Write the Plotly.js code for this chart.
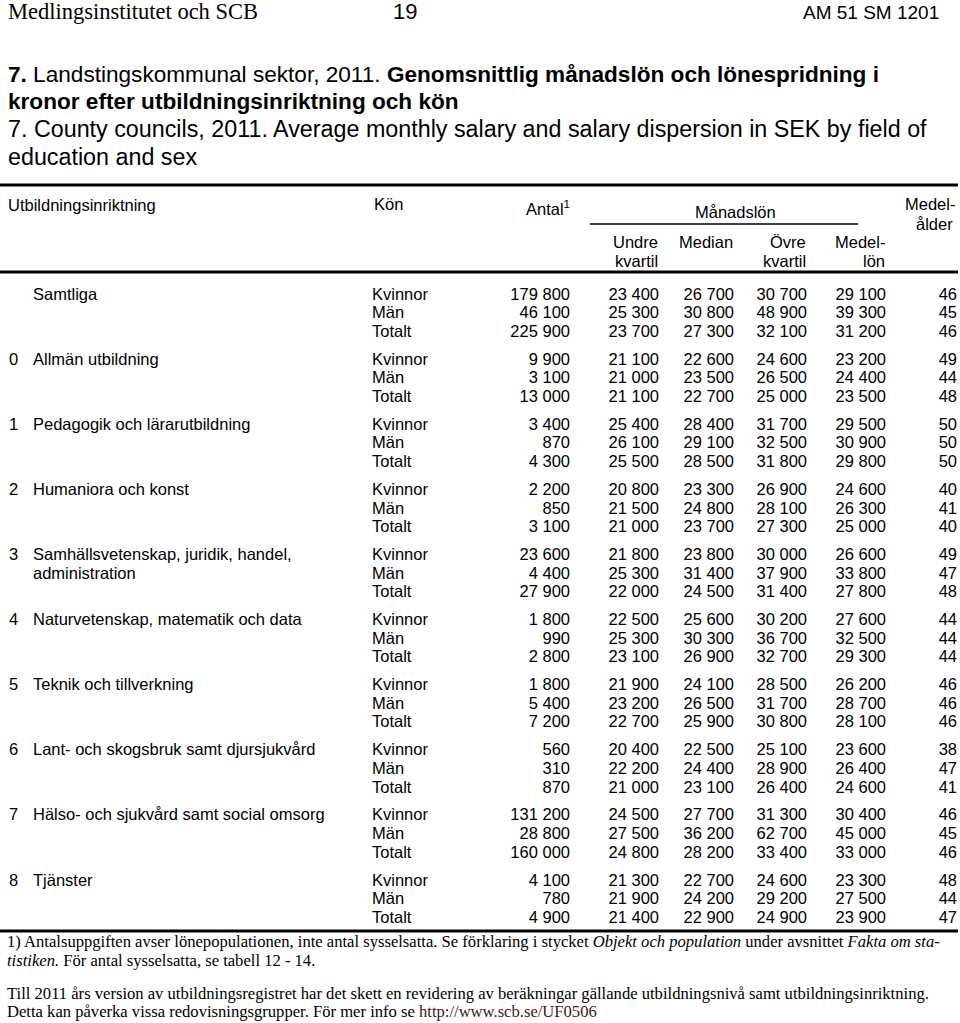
<!DOCTYPE html>
<html>
<head>
<meta charset="utf-8">
<script src="https://cdn.plot.ly/plotly-3.0.1.min.js"></script>
<style>
body { margin: 0; background: #fff; }
#tabell { width: 960px; height: 1023px; }
</style>
</head>
<body>
<div id="tabell"></div>
<script>
// Tabell 7 - data avläst ur tabellen
const nummer = ['', '0', '1', '2', '3', '4', '5', '6', '7', '8'];
const inriktning = [
    'Samtliga',
    'Allmän utbildning',
    'Pedagogik och lärarutbildning',
    'Humaniora och konst',
    'Samhällsvetenskap, juridik, handel,\nadministration',
    'Naturvetenskap, matematik och data',
    'Teknik och tillverkning',
    'Lant- och skogsbruk samt djursjukvård',
    'Hälso- och sjukvård samt social omsorg',
    'Tjänster'
];
const kon = ['Kvinnor', 'Män', 'Totalt'];

const antal = [
    [179800, 46100, 225900], [9900, 3100, 13000], [3400, 870, 4300], [2200, 850, 3100],
    [23600, 4400, 27900], [1800, 990, 2800], [1800, 5400, 7200], [560, 310, 870],
    [131200, 28800, 160000], [4100, 780, 4900]
];
const undreKvartil = [
    [23400, 25300, 23700], [21100, 21000, 21100], [25400, 26100, 25500], [20800, 21500, 21000],
    [21800, 25300, 22000], [22500, 25300, 23100], [21900, 23200, 22700], [20400, 22200, 21000],
    [24500, 27500, 24800], [21300, 21900, 21400]
];
const median = [
    [26700, 30800, 27300], [22600, 23500, 22700], [28400, 29100, 28500], [23300, 24800, 23700],
    [23800, 31400, 24500], [25600, 30300, 26900], [24100, 26500, 25900], [22500, 24400, 23100],
    [27700, 36200, 28200], [22700, 24200, 22900]
];
const ovreKvartil = [
    [30700, 48900, 32100], [24600, 26500, 25000], [31700, 32500, 31800], [26900, 28100, 27300],
    [30000, 37900, 31400], [30200, 36700, 32700], [28500, 31700, 30800], [25100, 28900, 26400],
    [31300, 62700, 33400], [24600, 29200, 24900]
];
const medellon = [
    [29100, 39300, 31200], [23200, 24400, 23500], [29500, 30900, 29800], [24600, 26300, 25000],
    [26600, 33800, 27800], [27600, 32500, 29300], [26200, 28700, 28100], [23600, 26400, 24600],
    [30400, 45000, 33000], [23300, 27500, 23900]
];
const medelalder = [
    [46, 45, 46], [49, 44, 48], [50, 50, 50], [40, 41, 40], [49, 47, 48],
    [44, 44, 44], [46, 46, 46], [38, 47, 41], [46, 45, 46], [48, 44, 47]
];

function graficar() {
    const W = 960, H = 1023;
    const rad0 = 295.5, radH = 18.6;   // pixelläge för första raden och radavstånd
    const gruppSteg = 3.5;             // rader per grupp inkl. luft
    const typsnitt = 'Liberation Sans, Arial, sans-serif';
    const serif = 'Liberation Serif, Times New Roman, serif';
    const fmt = v => String(v).replace(/\B(?=(\d{3})+(?!\d))/g, ' ');
    const py = px => 1 - px / H;

    // kolumnernas högerkanter (x i pixlar)
    const kolumner = [
        {v: antal, x: 570},
        {v: undreKvartil, x: 659},
        {v: median, x: 734},
        {v: ovreKvartil, x: 807},
        {v: medellon, x: 886},
        {v: medelalder, x: 957}
    ];

    const textFont = {family: typsnitt, size: 16.5, color: '#000'};
    const traces = [];

    // sifferkolumner
    kolumner.forEach(k => {
        const xs = [], ys = [], ts = [];
        k.v.forEach((grupp, g) => grupp.forEach((val, r) => {
            xs.push(k.x); ys.push(g * gruppSteg + r); ts.push(fmt(val));
        }));
        traces.push({x: xs, y: ys, text: ts, type: 'scatter', mode: 'text',
            textposition: 'middle left', textfont: textFont, hoverinfo: 'skip'});
    });

    // kön
    const kx = [], ky = [], kt = [];
    antal.forEach((grupp, g) => kon.forEach((k, r) => {
        kx.push(372); ky.push(g * gruppSteg + r); kt.push(k);
    }));
    traces.push({x: kx, y: ky, text: kt, type: 'scatter', mode: 'text',
        textposition: 'middle right', textfont: textFont, hoverinfo: 'skip'});

    // utbildningsinriktning
    const nx = [], ny = [], nt = [];
    inriktning.forEach((namn, g) => {
        if (nummer[g]) { nx.push(9); ny.push(g * gruppSteg); nt.push(nummer[g]); }
        namn.split('\n').forEach((rad, r) => {
            nx.push(33); ny.push(g * gruppSteg + r); nt.push(rad);
        });
    });
    traces.push({x: nx, y: ny, text: nt, type: 'scatter', mode: 'text',
        textposition: 'middle right', textfont: textFont, hoverinfo: 'skip'});

    const ann = (text, x, pxY, opt) => Object.assign({
        text: text, x: x, y: py(pxY), xref: 'x', yref: 'paper',
        xanchor: 'left', yanchor: 'middle', showarrow: false,
        font: {family: typsnitt, size: 16.5, color: '#000'}
    }, opt || {});

    const rubrik = {family: typsnitt, size: 23.3, color: '#000'};
    const rubrikFet = {family: typsnitt, size: 22.6, color: '#000'};
    const fot = {family: serif, size: 16.6, color: '#000'};

    const annotations = [
        ann('Medlingsinstitutet och SCB', 6, 12, {font: {family: serif, size: 22.5, color: '#000'}}),
        ann('19', 405, 12, {xanchor: 'center', font: {family: typsnitt, size: 22, color: '#000'}}),
        ann('AM 51 SM 1201', 941, 13, {xanchor: 'right', font: {family: typsnitt, size: 19, color: '#000'}}),

        ann('<b>7.</b> Landstingskommunal sektor, 2011. <b>Genomsnittlig månadslön och lönespridning i</b>', 6, 74, {font: rubrikFet}),
        ann('<b>kronor efter utbildningsinriktning och kön</b>', 6, 101, {font: rubrikFet}),
        ann('7. County councils, 2011. Average monthly salary and salary dispersion in SEK by field of', 6, 129, {font: rubrik}),
        ann('education and sex', 6, 157, {font: rubrik}),

        ann('Utbildningsinriktning', 6, 205),
        ann('Kön', 372, 204),
        ann('Antal<sup>1</sup>', 572, 208, {xanchor: 'right'}),
        ann('Månadslön', 735, 212, {xanchor: 'center'}),
        ann('Medel-', 957, 204, {xanchor: 'right'}),
        ann('ålder', 955, 224, {xanchor: 'right'}),
        ann('Undre', 660, 242, {xanchor: 'right'}),
        ann('kvartil', 660, 261, {xanchor: 'right'}),
        ann('Median', 735, 242, {xanchor: 'right'}),
        ann('Övre', 808, 242, {xanchor: 'right'}),
        ann('kvartil', 808, 261, {xanchor: 'right'}),
        ann('Medel-', 887, 242, {xanchor: 'right'}),
        ann('lön', 887, 261, {xanchor: 'right'}),

        ann('1) Antalsuppgiften avser lönepopulationen, inte antal sysselsatta. Se förklaring i stycket <i>Objekt och population</i> under avsnittet <i>Fakta om sta-</i>', 5, 941, {font: fot}),
        ann('<i>tistiken.</i> För antal sysselsatta, se tabell 12 - 14.', 5, 960, {font: fot}),
        ann('Till 2011 års version av utbildningsregistret har det skett en revidering av beräkningar gällande utbildningsnivå samt utbildningsinriktning.', 5, 993, {font: fot}),
        ann('Detta kan påverka vissa redovisningsgrupper. För mer info se <span style="color:#4a1414">http://www.scb.se/UF0506</span>', 5, 1011, {font: fot})
    ];

    const linje = (x0, x1, pxY, w) => ({
        type: 'line', xref: 'x', yref: 'paper', x0: x0, x1: x1, y0: py(pxY), y1: py(pxY),
        line: {color: '#000', width: w}
    });
    const shapes = [
        linje(0, 958, 185, 3),
        linje(590, 858, 224, 1.5),
        linje(0, 958, 272, 3),
        linje(0, 958, 931, 3)
    ];

    const layout = {
        width: W, height: H,
        margin: {l: 0, r: 0, t: 0, b: 0},
        paper_bgcolor: '#fff', plot_bgcolor: '#fff',
        showlegend: false,
        xaxis: {range: [0, W], visible: false, fixedrange: true},
        yaxis: {range: [(H - rad0) / radH, -rad0 / radH], visible: false, fixedrange: true},
        annotations: annotations,
        shapes: shapes
    };

    Plotly.newPlot('tabell', traces, layout, {displayModeBar: false, staticPlot: true});
}

window.onload = graficar;
</script>
</body>
</html>
